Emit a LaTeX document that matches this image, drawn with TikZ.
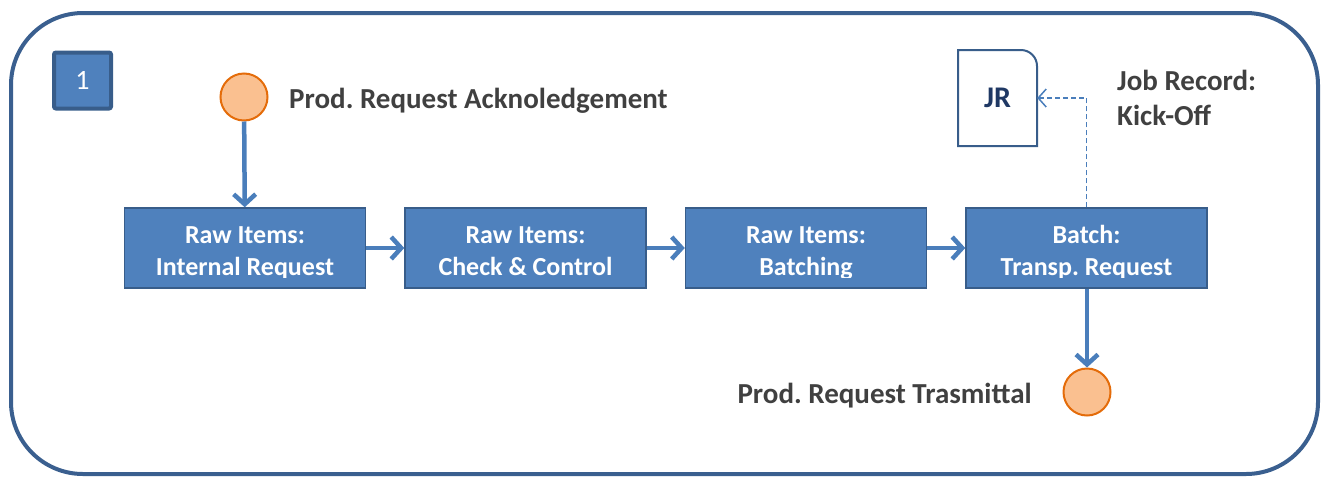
\documentclass[tikz,border=0pt]{standalone}
\usepackage{fontspec}
\setmainfont{Carlito}
\usetikzlibrary{arrows.meta}

\definecolor{frameblue}{HTML}{3A5F8F}
\definecolor{boxfill}{HTML}{4F81BD}
\definecolor{boxline}{HTML}{385D8A}
\definecolor{flow}{HTML}{4A7EBB}
\definecolor{eventfill}{HTML}{FAC090}
\definecolor{eventline}{HTML}{E46C0A}
\definecolor{labelgray}{HTML}{404040}
\definecolor{docnavy}{HTML}{1F3864}

\tikzset{
  procbox/.style={draw=boxline, line width=1.5pt, fill=boxfill,
    minimum width=241pt, minimum height=80pt, inner sep=0pt},
  proctext/.style={text=white, font=\fontsize{26}{32}\selectfont\bfseries\frenchspacing,
    align=center, inner sep=0pt, anchor=base},
  event/.style={circle, draw=eventline, line width=2pt, fill=eventfill,
    minimum size=47pt, inner sep=0pt},
  lbl/.style={text=labelgray, font=\fontsize{29}{35}\selectfont\bfseries\frenchspacing,
    inner sep=0pt},
  flowarrow/.style={draw=flow, line width=4.5pt,
    -{Straight Barb[length=10pt,width=22pt]}},
  dashflow/.style={draw=flow, line width=1.5pt, dash pattern=on 5pt off 3pt,
    -{Straight Barb[length=8pt,width=18pt]}},
  docline/.style={draw=boxline, line width=2pt, fill=white},
  tagbox/.style={draw=boxline, line width=4pt, fill=boxfill, rounded corners=2pt,
    minimum width=57pt, minimum height=56pt, inner sep=0pt,
    text=white, font=\fontsize{28}{32}\selectfont},
}

\begin{document}
\begin{tikzpicture}[x=1pt, y=-1pt]
\useasboundingbox (0,0) rectangle (1323,477);

% outer frame
\draw[frameblue, line width=4pt, rounded corners=72pt] (11,13) rectangle (1318,474);

% step number
\node[tagbox] (tag) at (82.5,80.5) {1};

% process boxes
\node[procbox] (b1) at (245,248) {};
\node[procbox] (b2) at (525.5,248) {};
\node[procbox] (b3) at (806,248) {};
\node[procbox] (b4) at (1086.5,248) {};

% box captions, cut off at the lower edge of the text area
\begin{scope}
  \clip (124,209) rectangle (366,277);
  \node[proctext] (t1) at (245,275) {Raw Items:\\Internal Request};
\end{scope}
\begin{scope}
  \clip (405,209) rectangle (646,277);
  \node[proctext] (t2) at (525.5,275) {Raw Items:\\Check \& Control};
\end{scope}
\begin{scope}
  \clip (686,209) rectangle (926,277);
  \node[proctext] (t3) at (806,275) {Raw Items:\\Batching};
\end{scope}
\begin{scope}
  \clip (966,209) rectangle (1207,277);
  \node[proctext] (t4) at (1086.5,275) {Batch:\\Transp. Request};
\end{scope}

% events
\node[event] (e1) at (244,97) {};
\node[event] (e2) at (1087,392) {};
\node[lbl, anchor=base west] (l1) at (289,108) {Prod. Request Acknoledgement};
\node[lbl, anchor=base east] (l2) at (1032,403) {Prod. Request Trasmittal};

% job record document
\node[minimum width=79pt, minimum height=96pt, inner sep=0pt] (jr) at (997.5,98) {};
\draw[docline] (958,146) -- (958,50) -- (1021,50)
  .. controls (1029.8,50) and (1037,57.2) .. (1037,66) -- (1037,146) -- cycle;
\node[text=docnavy, font=\fontsize{30}{36}\selectfont\bfseries] (jrt) at (jr.center) {JR};
\node[lbl, align=left, anchor=base west] (l3) at (1117,125) {Job Record:\\Kick-Off};

% flow connectors
\draw[flowarrow] (e1) -- (b1);
\draw[flowarrow] (b1) -- (b2);
\draw[flowarrow] (b2) -- (b3);
\draw[flowarrow] (b3) -- (b4);
\draw[flowarrow] (b4.south -| e2) -- (e2);
\draw[dashflow] (b4.north) |- (jr.east);
\end{tikzpicture}
\end{document}
